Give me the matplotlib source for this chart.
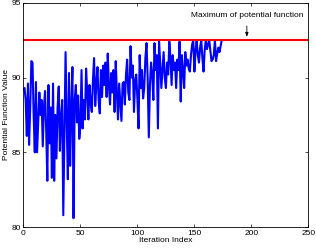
import numpy as np
import matplotlib
matplotlib.use('Agg')
import matplotlib.pyplot as plt

plt.rcParams['font.family'] = ['Liberation Sans', 'DejaVu Sans']

# potential function value per iteration
potential = [
    89.2, 89.3, 88.5, 86.1, 89.6, 85.5, 88.0, 91.1, 91.0, 87.5,
    85.0, 89.7, 85.0, 87.0, 89.0, 87.5, 88.5, 85.4, 88.0, 89.1,
    86.5, 83.1, 89.5, 85.6, 88.0, 83.3, 89.6, 83.1, 87.5, 84.6,
    88.0, 89.4, 85.1, 87.3, 88.5, 80.8, 86.0, 91.7, 87.0, 83.2,
    90.3, 84.1, 88.0, 90.7, 80.6, 88.5, 89.5, 87.0, 88.8, 85.9,
    86.7, 90.5, 86.6, 88.5, 87.2, 90.6, 89.0, 87.2, 89.5, 88.3,
    87.7, 89.8, 91.3, 88.1, 89.6, 90.7, 88.5, 87.6, 90.5, 88.7,
    90.8, 89.5, 91.0, 88.7, 91.6, 89.5, 88.2, 90.3, 89.0, 90.5,
    87.7, 91.1, 89.0, 87.2, 89.6, 88.3, 87.1, 89.6, 89.7, 88.2,
    90.2, 91.2, 89.0, 88.5, 92.1, 90.0, 90.8, 87.7, 89.8, 90.2,
    88.6, 86.6, 91.5, 89.3, 90.5, 88.6, 89.3, 91.3, 92.3, 90.0,
    86.0, 89.5, 91.0, 90.2, 88.5, 92.3, 90.5, 91.5, 86.6, 92.4,
    91.0, 89.3, 90.5, 91.7, 90.0, 89.3, 91.0, 90.2, 92.4, 91.3,
    89.5, 91.5, 90.5, 91.0, 89.3, 91.2, 90.5, 92.4, 88.4, 91.5,
    90.5, 89.3, 91.7, 90.8, 91.2, 90.6, 90.4, 91.5, 92.2, 92.5,
    90.4, 91.8, 92.5, 91.5, 91.0, 92.0, 92.5, 91.3, 90.4, 91.8,
    92.5, 91.9, 92.2, 92.5, 91.8, 91.1, 91.2, 91.5, 92.5, 91.1,
    91.6, 92.0, 91.7, 92.1, 92.5,
]
max_potential = 92.5
xticks = [0, 50, 100, 150, 200, 250]
yticks = [80, 85, 90, 95]

fig = plt.figure(figsize=(3.16, 2.48), dpi=100)
ax = fig.add_axes([0.074, 0.084, 0.902, 0.905])

ax.plot(np.arange(len(potential)), potential, color='#0000ff', lw=1.5)
ax.axhline(max_potential, color='#ff0000', lw=1.5)

ax.annotate('Maximum of potential function', xy=(196, 92.72), xytext=(196, 94.15),
            ha='center', va='center', fontsize=6,
            arrowprops=dict(arrowstyle='-|>,head_length=0.4,head_width=0.15',
                            color='black', lw=0.6, shrinkA=3, shrinkB=0))

ax.set_xlim(0, 250)
ax.set_ylim(80, 95)
ax.set_xticks(xticks)
ax.set_yticks(yticks)
ax.tick_params(direction='in', top=True, right=True, labelsize=6, length=2.5, width=0.5, pad=2)
for s in ax.spines.values():
    s.set_linewidth(0.6)

ax.set_xlabel('Iteration Index', fontsize=6, labelpad=0)
ax.set_ylabel('Potential Function Value', fontsize=6, labelpad=1)

fig.savefig('out.png', dpi=100)
